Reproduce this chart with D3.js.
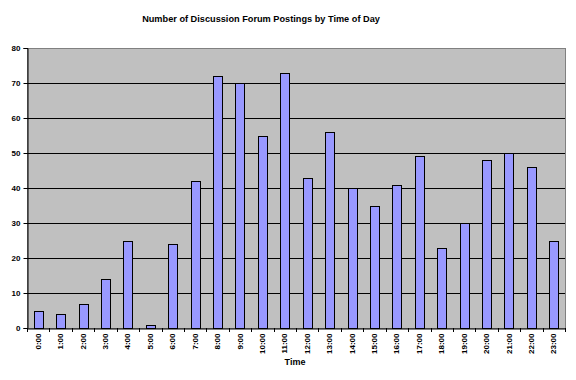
<!DOCTYPE html>
<html><head><meta charset="utf-8">
<script src="https://cdn.jsdelivr.net/npm/d3@7"></script>
<style>body{margin:0;background:#fff}svg{display:block}text{font-family:"Liberation Sans",Arial,sans-serif;font-weight:bold;fill:#000}</style>
</head><body><svg id="c" width="576" height="380"></svg>
<script>
const categories = ["0:00","1:00","2:00","3:00","4:00","5:00","6:00","7:00","8:00","9:00","10:00","11:00","12:00","13:00","14:00","15:00","16:00","17:00","18:00","19:00","20:00","21:00","22:00","23:00"];
const postings = [5,4,7,14,25,1,24,42,72,70,55,73,43,56,40,35,41,49,23,30,48,50,46,25];
const yTicks = [0,10,20,30,40,50,60,70,80];
const title = "Number of Discussion Forum Postings by Time of Day";
const xTitle = "Time";

const svg = d3.select("#c");
const m = {l:27, t:48, r:565, b:328};
const x = d3.scaleBand().domain(categories).range([m.l, m.r]).paddingInner(0.6).paddingOuter(0.3);
const y = d3.scaleLinear().domain([0,80]).range([m.b, m.t]);

svg.append("rect").attr("x",m.l+0.5).attr("y",m.t+0.5).attr("width",m.r-m.l).attr("height",m.b-m.t)
  .attr("fill","#C0C0C0").attr("stroke","#808080").attr("stroke-width",1);

svg.append("g").selectAll("line").data(yTicks.filter(d=>d>0 && d<80)).join("line")
  .attr("x1",m.l).attr("x2",m.r).attr("y1",d=>Math.round(y(d))+0.5).attr("y2",d=>Math.round(y(d))+0.5)
  .attr("stroke","#000").attr("stroke-width",1);

svg.append("g").selectAll("rect").data(postings).join("rect")
  .attr("x",(d,i)=>Math.round(x(categories[i]))+0.5).attr("width",Math.round(x.bandwidth()))
  .attr("y",d=>Math.round(y(d))+0.5).attr("height",d=>Math.round(y(0))-Math.round(y(d)))
  .attr("fill","#9999FF").attr("stroke","#000").attr("stroke-width",1);

// y axis
const ya = svg.append("g").attr("transform",`translate(${m.l+0.5},0)`)
  .call(d3.axisLeft(y).tickValues(yTicks).tickSize(4).tickPadding(3).tickFormat(d3.format("d")));
ya.select(".domain").attr("stroke","#000");
ya.selectAll("text").style("font-size","8px").attr("font-family",null);

// x axis
const xa = svg.append("g").attr("transform",`translate(0,${m.b+0.5})`)
  .call(d3.axisBottom(x).tickSize(0).tickSizeOuter(0));
xa.select(".domain").attr("stroke","#000");
xa.selectAll("text").style("font-size","8px").attr("text-anchor","end").attr("font-family",null)
  .attr("transform","rotate(-90)").attr("x",-5).attr("y",0).attr("dy","0.32em");
// separator ticks between categories
svg.append("g").selectAll("line").data(d3.range(categories.length+1)).join("line")
  .attr("x1",i=>Math.round(m.l + i*(m.r-m.l)/categories.length)+0.5)
  .attr("x2",i=>Math.round(m.l + i*(m.r-m.l)/categories.length)+0.5)
  .attr("y1",m.b).attr("y2",m.b+4).attr("stroke","#000");

svg.append("text").attr("x",261).attr("y",22).attr("text-anchor","middle").style("font-size","9.2px").text(title);
svg.append("text").attr("x",295).attr("y",365).attr("text-anchor","middle").style("font-size","9px").text(xTitle);
</script></body></html>
